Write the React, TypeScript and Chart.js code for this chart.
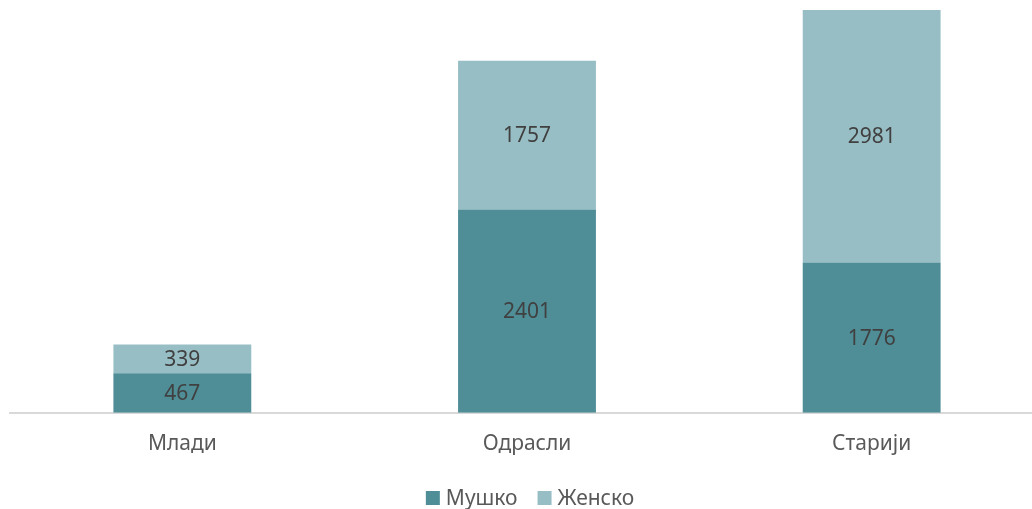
import React, { useEffect, useRef } from "react";
import { Chart, registerables } from "chart.js";

Chart.register(...registerables);

const categories = ["Млади", "Одрасли", "Старији"];
const maleValues = [467, 2401, 1776];
const femaleValues = [339, 1757, 2981];
const seriesLabels = ["Мушко", "Женско"];

const FONT = "'Noto Sans', 'DejaVu Sans', sans-serif";

const valueLabels = {
  id: "valueLabels",
  afterDatasetsDraw(chart: any) {
    const ctx = chart.ctx;
    ctx.save();
    ctx.font = `21px ${FONT}`;
    ctx.fillStyle = "#404040";
    ctx.textAlign = "center";
    ctx.textBaseline = "middle";
    chart.data.datasets.forEach((ds: any, i: number) => {
      const meta = chart.getDatasetMeta(i);
      meta.data.forEach((bar: any, j: number) => {
        const { x, y, base } = bar.getProps(["x", "y", "base"], true);
        ctx.fillText(String(ds.data[j]), x, (y + base) / 2 + 1);
      });
    });
    ctx.restore();
  },
};

const bottomLegend = {
  id: "bottomLegend",
  afterDraw(chart: any) {
    const ctx = chart.ctx;
    const box = 14;
    const gap = 6;
    const spacing = 20;
    const cy = 498;
    ctx.save();
    ctx.font = `21px ${FONT}`;
    ctx.textBaseline = "middle";
    ctx.textAlign = "left";
    const items = chart.data.datasets.map((ds: any) => ({
      text: ds.label,
      color: ds.backgroundColor,
      w: ctx.measureText(ds.label).width,
    }));
    const total =
      items.reduce((s: number, it: any) => s + box + gap + it.w, 0) +
      spacing * (items.length - 1);
    const area = chart.chartArea;
    let x = (area.left + area.right) / 2 + 3 - total / 2;
    items.forEach((it: any) => {
      ctx.fillStyle = it.color;
      ctx.fillRect(x, cy - box / 2, box, box);
      ctx.fillStyle = "#595959";
      ctx.fillText(it.text, x + box + gap, cy + 1);
      x += box + gap + it.w + spacing;
    });
    ctx.restore();
  },
};

export default function App() {
  const ref = useRef<HTMLCanvasElement | null>(null);
  useEffect(() => {
    if (!ref.current) return;
    const chart = new Chart(ref.current, {
      type: "bar",
      data: {
        labels: categories,
        datasets: [
          {
            label: seriesLabels[0],
            data: maleValues,
            backgroundColor: "#4f8e97",
            barPercentage: 0.4,
            categoryPercentage: 1,
          },
          {
            label: seriesLabels[1],
            data: femaleValues,
            backgroundColor: "#98bec5",
            barPercentage: 0.4,
            categoryPercentage: 1,
          },
        ],
      },
      options: {
        animation: false,
        responsive: false,
        maintainAspectRatio: false,
        layout: { padding: { left: 10, right: 6, top: 10, bottom: 41 } },
        scales: {
          x: {
            stacked: true,
            grid: { display: false },
            border: { color: "#d9d9d9", width: 2 },
            ticks: {
              color: "#595959",
              font: { size: 21, family: FONT },
              padding: 11,
            },
          },
          y: {
            stacked: true,
            display: false,
            min: 0,
            max: 4757,
          },
        },
        plugins: {
          legend: { display: false },
          tooltip: { enabled: false },
        },
      },
      plugins: [valueLabels, bottomLegend],
    });
    return () => chart.destroy();
  }, []);
  return (
    <div style={{ position: "absolute", left: 0, top: 0, width: 1032, height: 509, overflow: "hidden", background: "#fff" }}>
      <canvas ref={ref} width={1050} height={509} style={{ width: 1050, height: 509 }} />
    </div>
  );
}
